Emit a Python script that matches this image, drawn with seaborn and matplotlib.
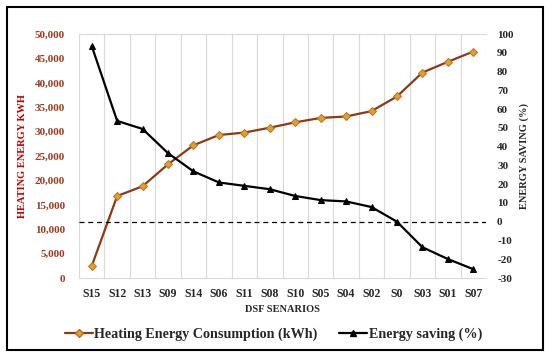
import numpy as np
import pandas as pd
import matplotlib.pyplot as plt
import seaborn as sns
from matplotlib.lines import Line2D
from matplotlib.patches import Rectangle

sns.set_style('white')
plt.rcParams['font.family'] = ['Liberation Serif', 'DejaVu Serif']
plt.rcParams['font.weight'] = 'bold'
plt.rcParams['axes.labelweight'] = 'bold'

# data
scenarios = ['S15', 'S12', 'S13', 'S09', 'S14', 'S06', 'S11', 'S08',
             'S10', 'S05', 'S04', 'S02', 'S0', 'S03', 'S01', 'S07']
heating = [2450, 16800, 18800, 23300, 27200, 29300, 29800, 30800,
           31900, 32800, 33100, 34200, 37200, 42100, 44300, 46400]
saving = [93.6, 53.7, 49.4, 36.5, 26.8, 20.9, 19.1, 17.3,
          13.7, 11.5, 10.8, 7.8, 0.0, -13.6, -19.9, -25.3]

df = pd.DataFrame({'scenario': scenarios, 'heating': heating, 'saving': saving})

fig = plt.figure(figsize=(5.5, 3.57), dpi=100)
ax = fig.add_axes([79/550, 1 - 278/357, (486-79)/550, (278-34)/357])

brown = '#8B3A14'
red = '#C00000'
tickred = '#9E3B1F'

sns.lineplot(data=df, x='scenario', y='heating', sort=False, ax=ax, color=brown,
             lw=1.6, marker='D', markersize=4, markerfacecolor='#E0A030',
             markeredgecolor='#B8701A', markeredgewidth=0.7)
ax.set_xlim(-0.5, len(scenarios) - 0.5)
ax.set_ylim(0, 50000)
ax.set_yticks(np.arange(0, 50001, 5000))
ax.set_yticklabels([f'{v:,}' for v in range(0, 50001, 5000)], color=tickred,
                   fontsize=8, fontweight='bold')
ax.set_xticks(range(len(scenarios)))
ax.set_xticklabels(scenarios, fontsize=8.5, fontweight='bold')
ax.set_xticks(np.arange(-0.5, len(scenarios)), minor=True)
ax.grid(True, which='minor', axis='x', color='#D9D9D9', lw=0.8)
ax.tick_params(which='both', length=0, pad=7)
ax.tick_params(axis='y', pad=10)
for s in ax.spines.values():
    s.set_visible(False)
ax.spines['top'].set_visible(True)
ax.spines['top'].set_color('#D9D9D9')
ax.spines['bottom'].set_visible(True)
ax.spines['bottom'].set_color('#D9D9D9')
ax.set_xlabel('DSF SENARIOS', fontsize=7.5, fontweight='bold', labelpad=4)
ax.set_ylabel('HEATING ENERGY KWH', fontsize=7.5, fontweight='bold', color=red, labelpad=6)

ax2 = ax.twinx()
sns.lineplot(data=df, x='scenario', y='saving', sort=False, ax=ax2, color='black',
             lw=1.6, marker='^', markersize=5, markeredgecolor='black')
ax2.set_ylim(-30, 100)
ax2.set_yticks(np.arange(-30, 101, 10))
ax2.set_yticklabels([str(v) for v in range(-30, 101, 10)], fontsize=8, fontweight='bold')
ax2.tick_params(length=0, pad=8)
ax2.axhline(0, color='black', ls='--', lw=0.9, dashes=(4, 3))
for s in ax2.spines.values():
    s.set_visible(False)
ax2.set_ylabel('ENERGY SAVING (%)', fontsize=7.5, fontweight='bold', labelpad=4)
ax2.set_xlabel('')

handles = [
    Line2D([], [], color=brown, lw=1.6, marker='D', markersize=4,
           markerfacecolor='#E0A030', markeredgecolor='#B8701A'),
    Line2D([], [], color='black', lw=1.6, marker='^', markersize=5),
]
fig.legend(handles, ['Heating Energy Consumption (kWh)', 'Energy saving (%)'],
           loc='center', bbox_to_anchor=(0.497, 1 - 334/357), ncol=2, frameon=False,
           prop={'size': 10.2, 'weight': 'bold'}, handlelength=2.0,
           handletextpad=0.1, columnspacing=1.5)

fig.patches.append(Rectangle((7/550, 1 - 350/357), 536/550, 343/357,
                             transform=fig.transFigure, fill=False,
                             edgecolor='black', lw=1.5))

fig.savefig('out.png', dpi=100)
